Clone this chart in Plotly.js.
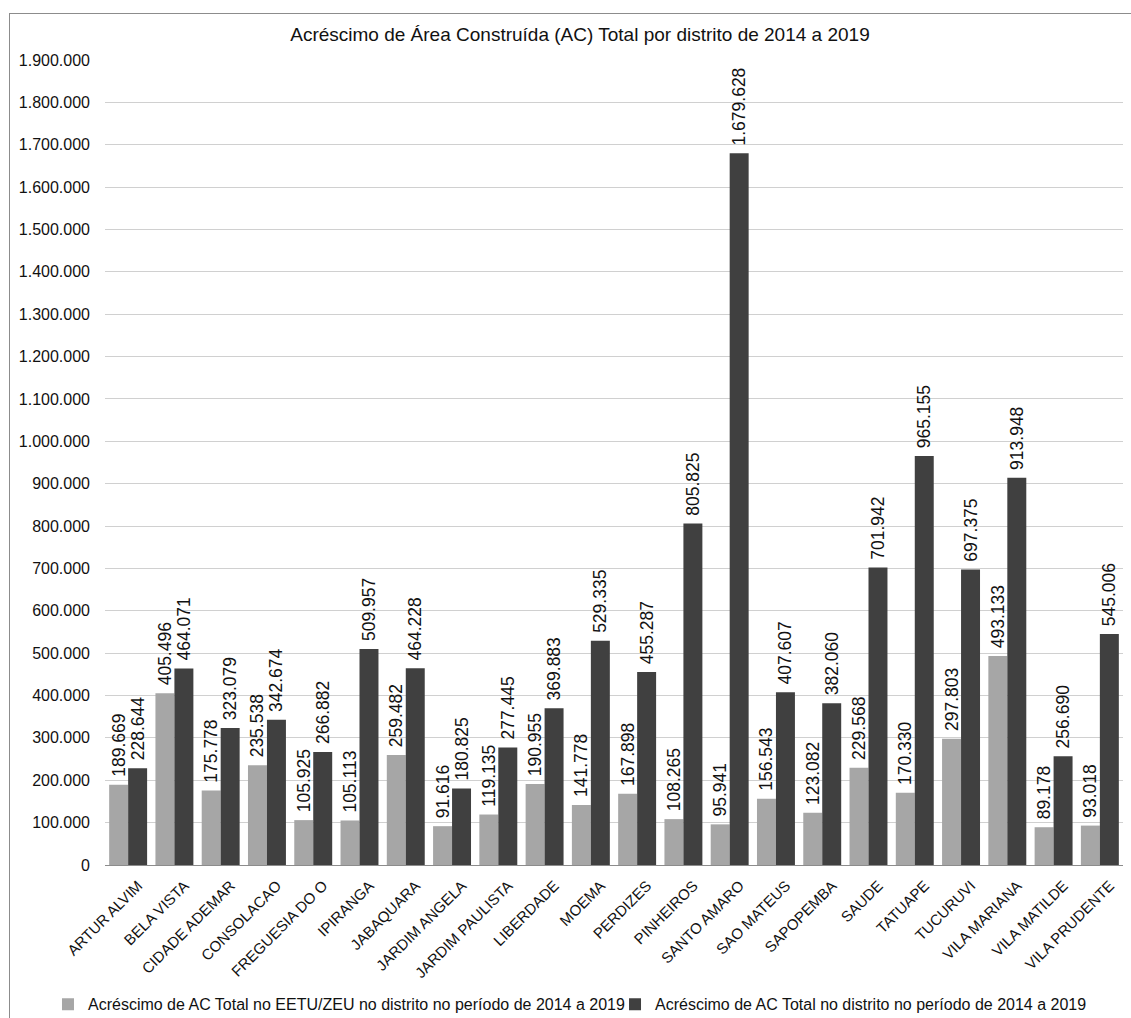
<!DOCTYPE html>
<html>
<head>
<meta charset="utf-8">
<script src="https://cdn.plot.ly/plotly-3.0.1.min.js"></script>
<style>
html,body{margin:0;padding:0;background:#fff;}
#wrap{position:relative;width:1131px;height:1018px;overflow:hidden;}
#chart{position:absolute;left:0;top:0;width:1131px;height:1018px;}
#frame{position:absolute;left:9px;top:13px;width:1140px;height:1020px;border:1px solid #8c8c8c;pointer-events:none;}
</style>
</head>
<body>
<div id="wrap"><div id="chart"></div><div id="frame"></div></div>
<script>
const districts = ["ARTUR ALVIM","BELA VISTA","CIDADE ADEMAR","CONSOLACAO","FREGUESIA DO O","IPIRANGA","JABAQUARA","JARDIM ANGELA","JARDIM PAULISTA","LIBERDADE","MOEMA","PERDIZES","PINHEIROS","SANTO AMARO","SAO MATEUS","SAPOPEMBA","SAUDE","TATUAPE","TUCURUVI","VILA MARIANA","VILA MATILDE","VILA PRUDENTE"];
const acEetuZeu = [189669,405496,175778,235538,105925,105113,259482,91616,119135,190955,141778,167898,108265,95941,156543,123082,229568,170330,297803,493133,89178,93018];
const acTotal = [228644,464071,323079,342674,266882,509957,464228,180825,277445,369883,529335,455287,805825,1679628,407607,382060,701942,965155,697375,913948,256690,545006];
const seriesNames = ["Acréscimo de AC Total no EETU/ZEU no distrito no período de 2014 a 2019","Acréscimo de AC Total no distrito no período de 2014 a 2019"];
const chartTitle = "Acréscimo de Área Construída (AC) Total por distrito de 2014 a 2019";

const font = "Liberation Sans, Arial, sans-serif";
const common = {
  type: "bar",
  x: districts,
  texttemplate: "\u00a0%{y:,}",
  textposition: "outside",
  textangle: -90,
  constraintext: "none",
  cliponaxis: false,
  outsidetextfont: {family: font, size: 17.5, color: "#111"},
  hoverinfo: "skip"
};
const traces = [
  Object.assign({}, common, {name: seriesNames[0], y: acEetuZeu, marker: {color: "#a6a6a6"}, legend: "legend"}),
  Object.assign({}, common, {name: seriesNames[1], y: acTotal, marker: {color: "#404040"}, legend: "legend2"})
];
const legendBase = {orientation: "h", xanchor: "left", xref: "paper", y: -0.173, yanchor: "middle", font: {family: font, size: 16, color: "#111"}, itemwidth: 30, bgcolor: "rgba(0,0,0,0)"};
const layout = {
  width: 1131, height: 1018,
  paper_bgcolor: "rgba(0,0,0,0)", plot_bgcolor: "rgba(0,0,0,0)",
  separators: ",.",
  font: {family: font, size: 16, color: "#111"},
  margin: {l: 105, r: 8, t: 60, b: 153, autoexpand: false},
  title: {text: chartTitle, font: {family: font, size: 19, color: "#111"}, x: 0.4666, xanchor: "center", xref: "paper", y: 0.966, yanchor: "middle"},
  barmode: "group",
  bargap: 0.18,
  bargroupgap: 0,
  showlegend: true,
  legend: Object.assign({}, legendBase, {x: -0.056}),
  legend2: Object.assign({}, legendBase, {x: 0.501}),
  xaxis: {tickangle: -45, tickfont: {family: font, size: 15, color: "#111"}, showline: true, linecolor: "#8c8c8c", linewidth: 1, ticks: "", showgrid: false, automargin: false, ticklabelstandoff: 5, ticklabelshift: 10},
  yaxis: {range: [0, 1900000], dtick: 100000, tickformat: ",d", showgrid: true, gridcolor: "#d0d0d0", gridwidth: 1, zeroline: false, showline: false, ticks: "", ticklabelstandoff: 14, tickfont: {family: font, size: 16, color: "#111"}, automargin: false}
};
Plotly.newPlot("chart", traces, layout, {displayModeBar: false, staticPlot: true});
</script>
</body>
</html>
